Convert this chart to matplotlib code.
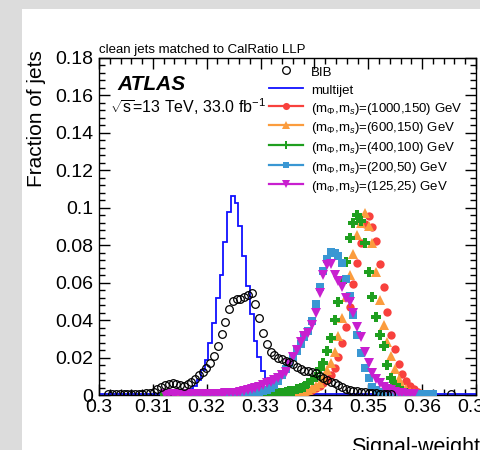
import numpy as np
import matplotlib.pyplot as plt
from matplotlib.lines import Line2D
from matplotlib.patches import Rectangle
from matplotlib.ticker import MultipleLocator, FuncFormatter

plt.rcParams['font.family'] = ['Liberation Sans', 'DejaVu Sans']
plt.rcParams['mathtext.fontset'] = 'custom'
plt.rcParams['mathtext.rm'] = 'Liberation Sans'
plt.rcParams['mathtext.it'] = 'Liberation Sans:italic'
plt.rcParams['mathtext.bf'] = 'Liberation Sans:bold'

### binning: 100 bins between 0.3 and 0.37
x_lo, x_hi, n_bins = 0.3, 0.37, 100

### data (fraction of jets per bin), each series starts at the given bin index
bib_start = 2
bib = [0.0006, 0.0005, 0.0007, 0.0006, 0.0005, 0.0006, 0.0007, 0.0006, 0.0008, 0.0007,
       0.0009, 0.0012, 0.0018, 0.003, 0.0045, 0.0055, 0.006, 0.0062, 0.0058, 0.0052,
       0.005, 0.006, 0.0072, 0.0088, 0.0105, 0.0125, 0.0145, 0.0169, 0.0208, 0.0263,
       0.0326, 0.0388, 0.0458, 0.0504, 0.0513, 0.0513, 0.0525, 0.0534, 0.0543, 0.0484,
       0.041, 0.0333, 0.0272, 0.0231, 0.0215, 0.020, 0.019, 0.0183, 0.0175, 0.0165,
       0.015, 0.0138, 0.013, 0.0127, 0.0122, 0.0116, 0.010, 0.009, 0.008, 0.007,
       0.0062, 0.0053, 0.0041, 0.0033, 0.0028, 0.0023, 0.002, 0.0018, 0.0014, 0.0013,
       0.0011, 0.001, 0.0008, 0.0007, 0.0006, 0.0005]
bib_extra_bin, bib_extra = 93, 0.0005

multijet_start = 0
multijet = [0.0003] * 21 + [
    0.0006, 0.001, 0.0015, 0.003, 0.005, 0.008, 0.0134, 0.0187, 0.0277, 0.0386,
    0.0518, 0.064, 0.0819, 0.0979, 0.1063, 0.1025, 0.0905, 0.0745, 0.058, 0.043,
    0.029, 0.0205, 0.0128, 0.0085, 0.0062, 0.004, 0.003, 0.002, 0.0015, 0.0012,
    0.001, 0.001, 0.0009, 0.0008, 0.0008, 0.0007, 0.0007, 0.0006, 0.0006, 0.0005,
    0.0005, 0.0005, 0.0005, 0.0005, 0.0005, 0.0005, 0.0004, 0.0004, 0.0004, 0.0004] + [0.0003] * 29

sig1000_start = 48
sig1000 = [0.0004, 0.0005, 0.0006, 0.0008, 0.001, 0.0012, 0.0016, 0.0021, 0.0028, 0.0037,
           0.0048, 0.0062, 0.008, 0.0107, 0.0142, 0.0201, 0.0276, 0.0365, 0.047, 0.0593,
           0.0707, 0.0813, 0.0911, 0.0958, 0.090, 0.0824, 0.0698, 0.0575, 0.0441, 0.032,
           0.0244, 0.0166, 0.0112, 0.0076, 0.005, 0.003, 0.0015, 0.0008, 0.0004]

sig600_start = 48
sig600 = [0.0004, 0.0005, 0.0007, 0.0009, 0.0012, 0.0016, 0.002, 0.0027, 0.0036, 0.0048,
          0.0065, 0.0089, 0.0134, 0.0173, 0.0231, 0.0315, 0.041, 0.0525, 0.064, 0.0751,
          0.0854, 0.092, 0.0974, 0.0905, 0.081, 0.0659, 0.0507, 0.0374, 0.0285, 0.0208,
          0.0137, 0.0085, 0.005, 0.003, 0.0018, 0.001, 0.0006, 0.0004]

sig400_start = 44
sig400 = [0.0005, 0.0006, 0.0008, 0.001, 0.0013, 0.0016, 0.002, 0.0024, 0.003, 0.0037,
          0.0045, 0.0062, 0.0078, 0.0098, 0.0137, 0.0169, 0.0237, 0.0303, 0.040, 0.0498,
          0.0605, 0.0712, 0.0837, 0.0917, 0.0961, 0.0931, 0.081, 0.0659, 0.0525, 0.0415,
          0.032, 0.0262, 0.016, 0.0089, 0.0055, 0.0035, 0.002, 0.0012, 0.0007]

sig200_start = 22
sig200 = [0.0003, 0.0003, 0.0004, 0.0004, 0.0004, 0.0005, 0.0005, 0.0005, 0.0006, 0.0006,
          0.0007, 0.0007, 0.0008, 0.0008, 0.0009, 0.0009, 0.001, 0.0011, 0.0012, 0.0013,
          0.0016, 0.002, 0.0025, 0.0036, 0.0053, 0.0075, 0.0105, 0.0137, 0.0169, 0.0201,
          0.0237, 0.0272, 0.0308, 0.0344, 0.0397, 0.0486, 0.0575, 0.0662, 0.0724, 0.0762,
          0.0757, 0.0745, 0.0703, 0.062, 0.0529, 0.0427, 0.032, 0.0223, 0.0142, 0.0089,
          0.0045, 0.0025, 0.0015, 0.001, 0.0008, 0.0006, 0.0005, 0.0005, 0.0004, 0.0004,
          0.0004, 0.0004, 0.0004, 0.0004, 0.0004, 0.0004, 0.0004]

sig125_start = 17
sig125 = [0.0004, 0.0004, 0.0005, 0.0005, 0.0005, 0.0005, 0.0005, 0.0005, 0.0005, 0.0005,
          0.0006, 0.0006, 0.0006, 0.0006, 0.0007, 0.0008, 0.0009, 0.001, 0.0011, 0.0013,
          0.0017, 0.0021, 0.0025, 0.003, 0.0036, 0.0043, 0.0055, 0.0062, 0.0071, 0.008,
          0.0092, 0.0107, 0.0125, 0.0165, 0.0201, 0.024, 0.0285, 0.0315, 0.033, 0.0374,
          0.044, 0.0543, 0.064, 0.0694, 0.0698, 0.064, 0.0609, 0.0575, 0.052, 0.0498,
          0.044, 0.0365, 0.0308, 0.0231, 0.0169, 0.0116, 0.0085, 0.0062, 0.0045, 0.0033,
          0.0025, 0.0018, 0.0013, 0.001, 0.0008, 0.0006, 0.0005]

# a few isolated low entries far in the left tails
tail_bins = {'sig400': 17, 'sig1000': 20, 'sig600': 21}
tail_val = 0.0003

labels = ['BIB', 'multijet',
          r'(m$_{\Phi}$,m$_{s}$)=(1000,150) GeV',
          r'(m$_{\Phi}$,m$_{s}$)=(600,150) GeV',
          r'(m$_{\Phi}$,m$_{s}$)=(400,100) GeV',
          r'(m$_{\Phi}$,m$_{s}$)=(200,50) GeV',
          r'(m$_{\Phi}$,m$_{s}$)=(125,25) GeV']

edges = np.linspace(x_lo, x_hi, n_bins + 1)
centers = 0.5 * (edges[:-1] + edges[1:])


def to_bins(start, vals):
    out = np.full(n_bins, np.nan)
    out[start:start + len(vals)] = vals
    return out


bib_y = to_bins(bib_start, bib)
bib_y[bib_extra_bin] = bib_extra
mj_y = to_bins(multijet_start, multijet)

signals = [
    ('sig1000', sig1000_start, sig1000, '#f8413d', 'o', 6.0),
    ('sig600', sig600_start, sig600, '#fb9c3e', '^', 6.5),
    ('sig400', sig400_start, sig400, '#1f9f1f', 'P', 6.5),
    ('sig200', sig200_start, sig200, '#3a97d3', 's', 5.6),
    ('sig125', sig125_start, sig125, '#c81fcf', 'v', 6.5),
]

fig = plt.figure(figsize=(4.8, 4.5), dpi=100, facecolor='#dcdcdc')
fig.patches.append(Rectangle((22 / 480, 0), 1, 1 - 9 / 450, transform=fig.transFigure,
                             facecolor='white', edgecolor='none', zorder=-10))
ax = fig.add_axes([99 / 480, 1 - 395 / 450, 377 / 480, 337 / 450])

handles = [Line2D([], [], ls='none', marker='o', mfc='none', mec='black', ms=5.5, mew=0.9),
           Line2D([], [], color='#1010ff', lw=1.3)]

ax.stairs(mj_y, edges, color='#1010ff', lw=1.3, zorder=2)

for name, start, vals, col, mk, ms in signals:
    y = to_bins(start, vals)
    if name in tail_bins:
        y[tail_bins[name]] = tail_val
    ax.plot(centers, y, ls='none', marker=mk, color=col, ms=ms, mew=0, zorder=3)
    handles.append(Line2D([], [], color=col, lw=1.6, marker=mk, ms=ms * 0.85, mew=0))

ax.plot(centers, bib_y, ls='none', marker='o', mfc='none', mec='black', ms=5.5, mew=0.9, zorder=4)

ax.set_xlim(x_lo, x_hi)
ax.set_ylim(0, 0.18)
ax.xaxis.set_major_locator(MultipleLocator(0.01))
ax.xaxis.set_minor_locator(MultipleLocator(0.002))
ax.yaxis.set_major_locator(MultipleLocator(0.02))
ax.yaxis.set_minor_locator(MultipleLocator(0.004))
fmt = FuncFormatter(lambda v, p: '%g' % round(v, 4))
ax.xaxis.set_major_formatter(fmt)
ax.yaxis.set_major_formatter(fmt)
ax.tick_params(which='both', direction='in', top=True, right=True, width=1.0)
ax.tick_params(which='major', length=8, labelsize=14)
ax.tick_params(which='minor', length=4)
ax.tick_params(axis='y', pad=4)
ax.tick_params(axis='x', pad=3)
for s in ax.spines.values():
    s.set_linewidth(1.0)

ax.legend(handles, labels, loc='upper left', bbox_to_anchor=(0.451, 0.982), frameon=False,
          fontsize=9.5, handlelength=2.6, handletextpad=0.6, handleheight=1.4,
          labelspacing=0.2, borderpad=0, borderaxespad=0, numpoints=1)

ax.text(0.05, 0.905, 'ATLAS', transform=ax.transAxes, fontsize=15, fontweight='bold',
        fontstyle='italic', va='baseline')
ax.text(0.029, 0.837, r'$\sqrt{\mathrm{s}}$=13 TeV, 33.0 fb$^{-1}$', transform=ax.transAxes,
        fontsize=11.5, va='baseline')

fig.text(99 / 480, 1 - 53 / 450, 'clean jets matched to CalRatio LLP', fontsize=9.5, va='baseline')
fig.text(37 / 480, 1 - 50 / 450, 'Fraction of jets', rotation=90, ha='center', va='top', fontsize=15)
fig.text(351 / 480, 1 - 437 / 450, 'Signal-weight', fontsize=15.5, va='top')

fig.savefig('out.png', dpi=100, facecolor=fig.get_facecolor())
